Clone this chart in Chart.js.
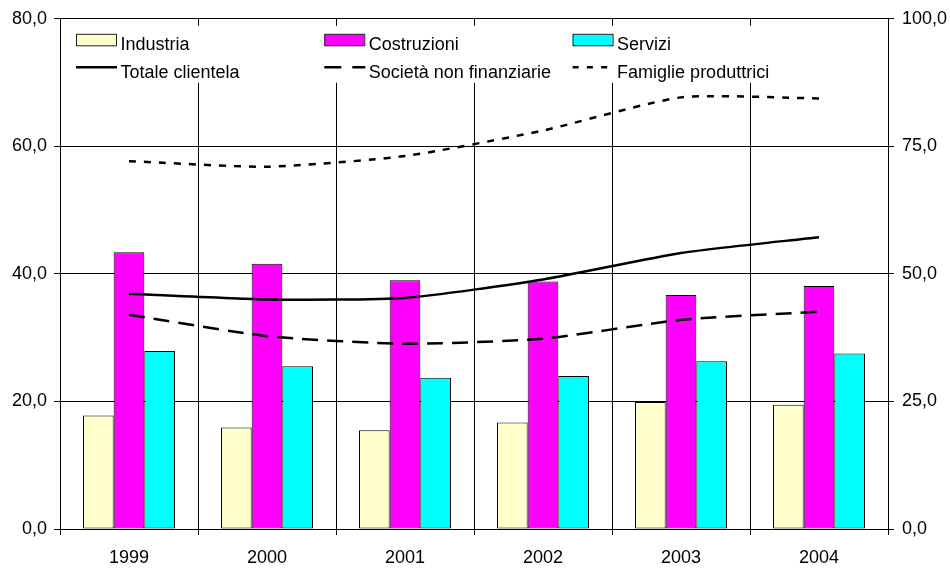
<!DOCTYPE html>
<html>
<head>
<meta charset="utf-8">
<script src="https://cdn.jsdelivr.net/npm/chart.js@4.4.1/dist/chart.umd.min.js"></script>
<style>
  html, body { margin: 0; padding: 0; background: #fff; }
  #box { width: 950px; height: 569px; }
</style>
</head>
<body>
<div id="box"><canvas id="grafico" width="950" height="569"></canvas></div>
<script>
// Dati
const anni = ['1999', '2000', '2001', '2002', '2003', '2004'];
const industria   = [17.8, 15.9, 15.5, 16.7, 19.9, 19.5];
const costruzioni = [43.4, 41.6, 39.0, 38.8, 36.7, 38.1];
const servizi     = [27.9, 25.5, 23.7, 24.0, 26.3, 27.5];
// linee (asse di destra)
const totaleClientela = [46.1, 45.0, 45.3, 48.9, 54.1, 57.2];
const societaNonFin   = [42.0, 37.8, 36.3, 37.3, 41.0, 42.6];
const famiglieProd    = [72.1, 71.0, 73.1, 78.1, 84.6, 84.4];
const tickSx = [0, 20, 40, 60, 80];
const tickDx = [0, 25, 50, 75, 100];

const FONT = '"Liberation Sans", Arial, sans-serif';
const virgola = v => v.toFixed(1).replace('.', ',');

// legenda disegnata dentro l'area del grafico
const legendaInterna = {
  id: 'legendaInterna',
  beforeDatasetsDraw(chart) {
    const ctx = chart.ctx;
    const a = chart.chartArea;
    ctx.save();
    ctx.fillStyle = '#ffffff';
    ctx.fillRect(a.left + 6, a.top + 7, 726, 57);
    ctx.font = '18px ' + FONT;
    ctx.textBaseline = 'alphabetic';
    let barre = 0, linee = 0;
    chart.data.datasets.forEach(ds => {
      let col, riga;
      if (ds.type === 'line') { col = linee++; riga = 1; } else { col = barre++; riga = 0; }
      const x = a.left + 16 + col * 248.3;
      if (riga === 0) {
        ctx.fillStyle = ds.backgroundColor;
        ctx.fillRect(x, a.top + 15.5, 40, 11.5);
        ctx.strokeStyle = '#222';
        ctx.lineWidth = 1;
        ctx.strokeRect(x + 0.5, a.top + 15.5, 40, 11.5);
      } else {
        ctx.strokeStyle = ds.borderColor;
        ctx.lineWidth = ds.borderWidth;
        ctx.setLineDash(ds.legendDash || []);
        ctx.beginPath();
        ctx.moveTo(x, a.top + 48.5);
        ctx.lineTo(x + 41, a.top + 48.5);
        ctx.stroke();
        ctx.setLineDash([]);
      }
      ctx.fillStyle = '#000';
      ctx.fillText(ds.label, x + 44.5, a.top + (riga === 0 ? 31.3 : 59.3));
    });
    ctx.restore();
  }
};

const ctx = document.getElementById('grafico').getContext('2d');
new Chart(ctx, {
  data: {
    labels: anni,
    datasets: [
      { type: 'bar', label: 'Industria', data: industria, yAxisID: 'y',
        backgroundColor: '#FFFFCC', borderColor: '#000', borderWidth: 1, borderSkipped: false, order: 2 },
      { type: 'bar', label: 'Costruzioni', data: costruzioni, yAxisID: 'y',
        backgroundColor: '#FF00FF', borderColor: '#000', borderWidth: 1, borderSkipped: false, order: 2 },
      { type: 'bar', label: 'Servizi', data: servizi, yAxisID: 'y',
        backgroundColor: '#00FFFF', borderColor: '#000', borderWidth: 1, borderSkipped: false, order: 2 },
      { type: 'line', label: 'Totale clientela', data: totaleClientela, yAxisID: 'y1',
        borderColor: '#000', borderWidth: 2.5, pointRadius: 0, tension: 0.2, order: 1 },
      { type: 'line', label: 'Società non finanziarie', data: societaNonFin, yAxisID: 'y1',
        borderColor: '#000', borderWidth: 2.5, borderDash: [16, 9], legendDash: [17, 11],
        pointRadius: 0, tension: 0.2, order: 1 },
      { type: 'line', label: 'Famiglie produttrici', data: famiglieProd, yAxisID: 'y1',
        borderColor: '#000', borderWidth: 2.5, borderDash: [7, 8], legendDash: [6, 8.3],
        pointRadius: 0, tension: 0.2, order: 1 }
    ]
  },
  options: {
    responsive: false,
    animation: false,
    devicePixelRatio: 1,
    layout: { padding: { top: 18, left: 0, right: 0, bottom: 0 } },
    datasets: { bar: { categoryPercentage: 0.667, barPercentage: 1.0 } },
    plugins: { legend: { display: false }, tooltip: { enabled: false } },
    scales: {
      x: {
        offset: true,
        grid: { offset: true, color: '#000', lineWidth: 1, tickLength: 6, drawTicks: true },
        border: { color: '#000', width: 1 },
        ticks: { color: '#000', font: { family: FONT, size: 18 }, padding: 12, maxRotation: 0 },
        afterFit: s => { s.height = 40; }
      },
      y: {
        position: 'left',
        min: 0, max: 80,
        afterBuildTicks: s => { s.ticks = tickSx.map(v => ({ value: v })); },
        grid: { color: '#000', lineWidth: 1, tickLength: 6 },
        border: { color: '#000', width: 1 },
        ticks: { color: '#000', font: { family: FONT, size: 18 }, padding: 7, callback: virgola },
        afterFit: s => { s.width = 60; }
      },
      y1: {
        position: 'right',
        min: 0, max: 100,
        afterBuildTicks: s => { s.ticks = tickDx.map(v => ({ value: v })); },
        grid: { drawOnChartArea: false, color: '#000', lineWidth: 1, tickLength: 6 },
        border: { color: '#000', width: 1 },
        ticks: { color: '#000', font: { family: FONT, size: 18 }, padding: 8, callback: virgola },
        afterFit: s => { s.width = 62; }
      }
    }
  },
  plugins: [legendaInterna]
});
</script>
</body>
</html>
